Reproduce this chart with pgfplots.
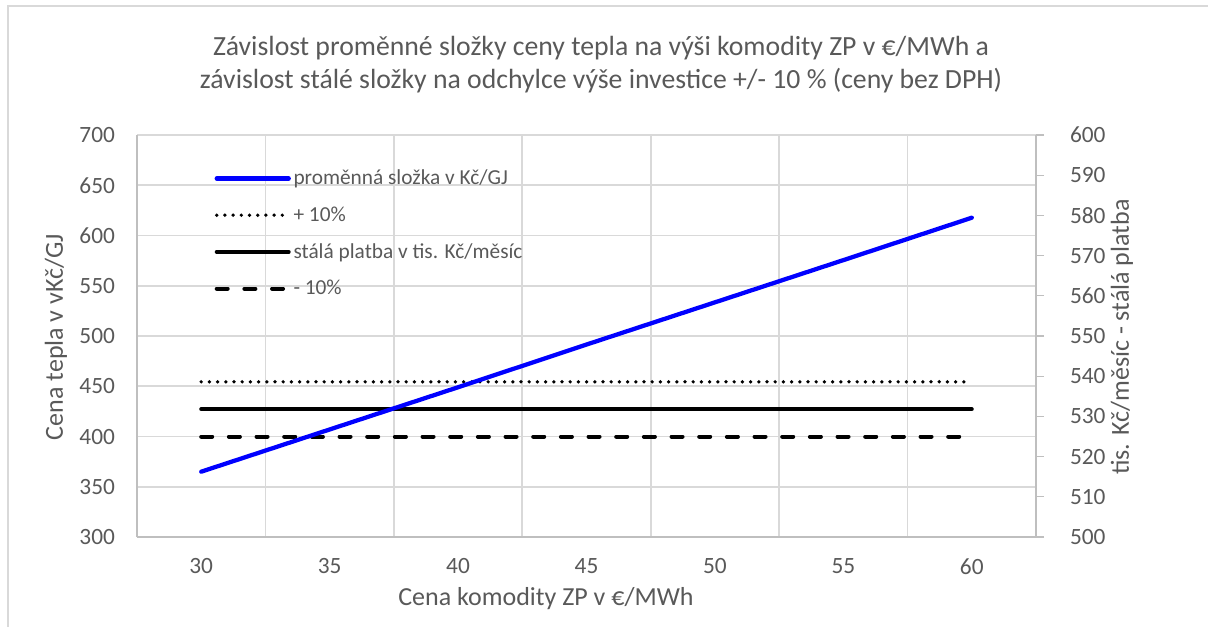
\documentclass[border=0pt]{standalone}
\usepackage{fontspec}
\setmainfont{Carlito}
\usepackage{pgfplots}
\pgfplotsset{compat=1.18}
\definecolor{txt}{HTML}{595959}
\definecolor{grd}{HTML}{D9D9D9}
\definecolor{axl}{HTML}{BFBFBF}
\definecolor{serblue}{HTML}{0000FF}

\begin{document}
\begin{tikzpicture}
\useasboundingbox (0,0) rectangle (906pt,-469.5pt);
\draw[grd, line width=1.5pt] (6pt,-475pt) -- (6pt,-4.5pt) -- (912pt,-4.5pt);

% base axis: left scale, grid, x labels
\begin{axis}[
  at={(102.75pt,-402.75pt)}, anchor=south west,
  scale only axis, width=674.25pt, height=301.5pt,
  xmin=-0.5, xmax=6.5, ymin=300, ymax=700,
  axis x line*=bottom, axis y line*=left,
  axis line style={axl, line width=1.5pt, -},
  xtick={0,...,6}, xticklabels={30,35,40,45,50,55,60},
  minor xtick={-0.5,0.5,...,6.5}, xminorgrids,
  ytick={300,350,...,700}, ymajorgrids,
  major tick length=0pt, minor tick length=0pt,
  grid style={grd, line width=1.2pt},
  minor grid style={grd, line width=1.2pt},
  tick label style={txt, font=\fontsize{17.5}{20}\selectfont},
  yticklabel style={xshift=-13pt},
  xticklabel style={yshift=-12.5pt},
  /pgf/number format/assume math mode=true,
]
\end{axis}

% right axis: fixed payment
\begin{axis}[
  at={(102.75pt,-402.75pt)}, anchor=south west,
  scale only axis, width=674.25pt, height=301.5pt,
  xmin=-0.5, xmax=6.5, ymin=500, ymax=600,
  axis x line=none, axis y line*=right,
  xtick=\empty,
  axis line style={axl, line width=1.5pt, -},
  ytick={500,510,...,600},
  tick align=outside, major tick length=6pt,
  tick style={axl, line width=1pt},
  tick label style={txt, font=\fontsize{17.5}{20}\selectfont},
  yticklabel style={xshift=16pt},
  /pgf/number format/assume math mode=true,
]
\addplot[black, line width=2.8pt, line cap=round, dash pattern=on 0pt off 6.15pt] coordinates {(0,538.6) (6,538.6)};
\addplot[black, line width=3pt, line cap=round] coordinates {(0,531.8) (6,531.8)};
\addplot[black, line width=3pt, line cap=round, dash pattern=on 8.25pt off 12.5pt] coordinates {(0,525.0) (6,525.0)};
\end{axis}

% variable component on left scale, with legend
\begin{axis}[
  at={(102.75pt,-402.75pt)}, anchor=south west,
  scale only axis, width=674.25pt, height=301.5pt,
  xmin=-0.5, xmax=6.5, ymin=300, ymax=700,
  hide axis,
  legend image code/.code={\draw[#1] (0pt,0pt) -- (54pt,0pt);},
  legend style={at={(0.086,0.92)}, anchor=north west, draw=none, fill=none,
    font=\fontsize{16}{19}\selectfont, text=txt, row sep=11pt,
    inner sep=0pt},
  legend cell align=left,
]
\addplot[serblue, line width=3.2pt, line cap=round] coordinates {
  (0,365) (1,407) (2,449) (3,491.5) (4,533.5) (5,575.5) (6,617.7)};
\addlegendentry{proměnná složka v Kč/GJ}
\addlegendimage{black, line width=2.8pt, line cap=round, dash pattern=on 0pt off 6.15pt}
\addlegendentry{ + 10\%}
\addlegendimage{black, line width=3pt, line cap=round}
\addlegendentry{stálá platba v tis. Kč/měsíc}
\addlegendimage{black, line width=3pt, line cap=round, dash pattern=on 8.25pt off 12.5pt}
\addlegendentry{ - 10\%}
\end{axis}

\node[txt, font=\fontsize{20.8}{25}\selectfont, anchor=base] at (450.75pt,-41.25pt) {Závislost proměnné složky ceny tepla na výši komodity ZP v €/MWh a};
\node[txt, font=\fontsize{20.8}{25}\selectfont, anchor=base] at (450.75pt,-66pt) {závislost stálé složky na odchylce výše investice +/- 10 \% (ceny bez DPH)};
\node[txt, font=\fontsize{19.5}{24}\selectfont] at (409.5pt,-449.25pt) {Cena komodity ZP v €/MWh};
\node[txt, font=\fontsize{19.5}{24}\selectfont, rotate=90] at (42pt,-252.75pt) {Cena tepla v vKč/GJ};
\node[txt, font=\fontsize{19.5}{24}\selectfont, rotate=90] at (841.5pt,-252.75pt) {tis. Kč/měsíc - stálá platba};
\end{tikzpicture}
\end{document}
